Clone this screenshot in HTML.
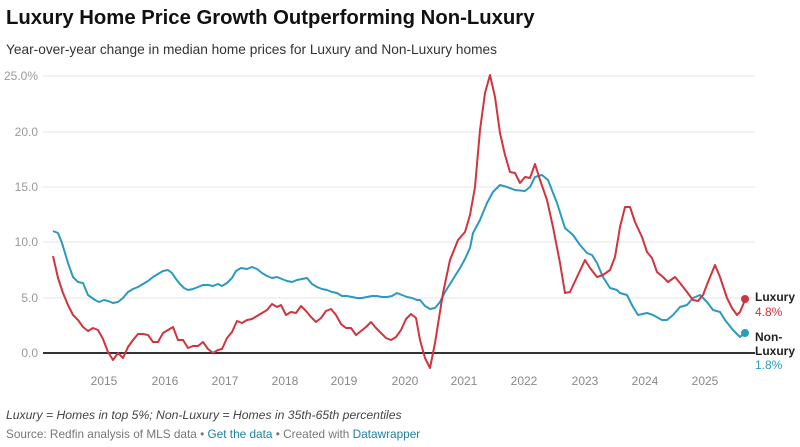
<!DOCTYPE html>
<html><head><meta charset="utf-8"><style>
body{margin:0;width:800px;height:447px;background:#fff;font-family:"Liberation Sans",sans-serif;overflow:hidden;position:relative}
.t{position:absolute;left:6px;top:7px;font-size:20.3px;font-weight:bold;color:#111}
.s{position:absolute;left:6px;top:42px;font-size:13.7px;color:#333}
.f1{position:absolute;left:6px;top:408px;font-size:12.2px;font-style:italic;color:#444}
.f2{position:absolute;left:6px;top:427px;font-size:11.8px;color:#777}
.f2 a{color:#1d81a2;text-decoration:none}
</style></head><body>
<div class="t">Luxury Home Price Growth Outperforming Non-Luxury</div>
<div class="s">Year-over-year change in median home prices for Luxury and Non-Luxury homes</div>
<svg width="800" height="447" style="position:absolute;left:0;top:0">
<g stroke="#e6e6e6" stroke-width="1">
<line x1="43" x2="755" y1="76" y2="76"/><line x1="43" x2="755" y1="132" y2="132"/><line x1="43" x2="755" y1="187" y2="187"/><line x1="43" x2="755" y1="242" y2="242"/><line x1="43" x2="755" y1="298" y2="298"/>
</g>
<g font-size="12" fill="#999" text-anchor="end" font-family="Liberation Sans">
<text x="38" y="80">25.0%</text><text x="38" y="136">20.0</text><text x="38" y="191">15.0</text><text x="38" y="246">10.0</text><text x="38" y="302">5.0</text><text x="38" y="357">0.0</text>
</g>
<g font-size="12" fill="#888" text-anchor="middle" font-family="Liberation Sans">
<text x="104" y="385">2015</text><text x="165" y="385">2016</text><text x="225" y="385">2017</text><text x="285" y="385">2018</text><text x="344" y="385">2019</text><text x="405" y="385">2020</text><text x="464" y="385">2021</text><text x="524" y="385">2022</text><text x="585" y="385">2023</text><text x="645" y="385">2024</text><text x="705" y="385">2025</text>
</g>
<polyline fill="none" stroke="#2a9ac0" stroke-width="2" stroke-linejoin="round" points="53,231 58,233 62,243 68,263 73,277 78,282 83,283 88,295 95,300 99,302 104,300 108,301 113,303 118,302 123,298 128,292 133,289 138,287 143,284 148,281 153,277 158,274 163,271 168,270 172,273 176,279 180,284 184,288 188,290 193,289 198,287 203,285 208,285 213,286 218,284 222,286 227,283 232,278 236,271 241,268 247,269 252,267 257,269 262,273 267,276 272,278 277,277 282,279 287,281 292,282 297,280 302,279 307,278 312,284 317,287 322,289 327,290 332,292 337,293 342,296 347,296 352,297 357,298 362,298 367,297 372,296 377,296 382,297 387,297 392,296 397,293 402,295 407,297 412,298 417,300 420,300 425,306 430,309 435,308 440,302 445,292 450,284 455,276 460,268 465,259 470,248 473,233 480,220 487,203 493,192 500,185 507,187 515,190 525,191 530,187 535,177 542,175 548,180 557,203 565,228 573,235 580,245 587,253 592,255 597,263 603,277 610,288 617,290 620,293 627,295 633,307 638,315 647,313 653,315 662,320 667,320 673,315 680,307 687,305 693,298 700,295 707,302 713,310 720,312 725,320 733,330 740,337 745,333"/>
<line x1="43" x2="755" y1="353" y2="353" stroke="#333" stroke-width="2"/>
<polyline fill="none" stroke="#d0343f" stroke-width="2" stroke-linejoin="round" points="53,256 58,278 63,293 68,305 73,315 78,320 83,327 88,331 93,328 98,330 103,339 108,352 113,360 118,353 123,358 128,347 133,340 138,334 143,334 148,335 153,342 158,342 163,333 168,330 173,327 178,340 183,340 188,348 193,346 198,346 203,342 208,349 213,353 218,350 222,349 227,338 232,332 237,321 242,323 247,320 252,319 257,316 262,313 267,310 272,304 277,307 281,305 286,315 291,312 296,313 301,306 306,311 311,317 316,322 321,318 326,311 331,309 336,315 341,324 346,328 351,328 356,335 361,331 366,327 371,322 376,328 381,333 386,338 391,340 396,337 401,330 406,319 411,314 416,318 420,340 425,358 430,368 435,343 443,293 450,260 458,240 465,232 470,215 475,187 480,130 485,93 490,75 495,97 500,133 505,155 510,172 515,173 520,183 525,177 530,178 535,164 540,180 547,200 553,227 560,263 565,293 570,292 577,277 585,260 590,268 597,277 603,275 610,270 615,257 620,227 625,207 630,207 635,222 642,237 647,252 652,258 657,272 663,277 668,282 675,277 680,283 687,292 693,300 698,301 703,295 708,282 715,265 720,277 727,298 732,308 737,315 740,312 745,300"/>
<circle cx="745" cy="299" r="4" fill="#d0343f"/>
<circle cx="745" cy="333" r="4" fill="#2a9ac0"/>
<g font-size="12" font-family="Liberation Sans">
<text x="755" y="301" font-weight="bold" fill="#222">Luxury</text>
<text x="755" y="316" fill="#d0343f">4.8%</text>
<text x="755" y="341" font-weight="bold" fill="#222">Non-</text>
<text x="755" y="355" font-weight="bold" fill="#222">Luxury</text>
<text x="755" y="369" fill="#2a9ac0">1.8%</text>
</g>
</svg>
<div class="f1">Luxury = Homes in top 5%; Non-Luxury = Homes in 35th-65th percentiles</div>
<div class="f2">Source: Redfin analysis of MLS data • <a>Get the data</a> • Created with <a>Datawrapper</a></div>
</body></html>
